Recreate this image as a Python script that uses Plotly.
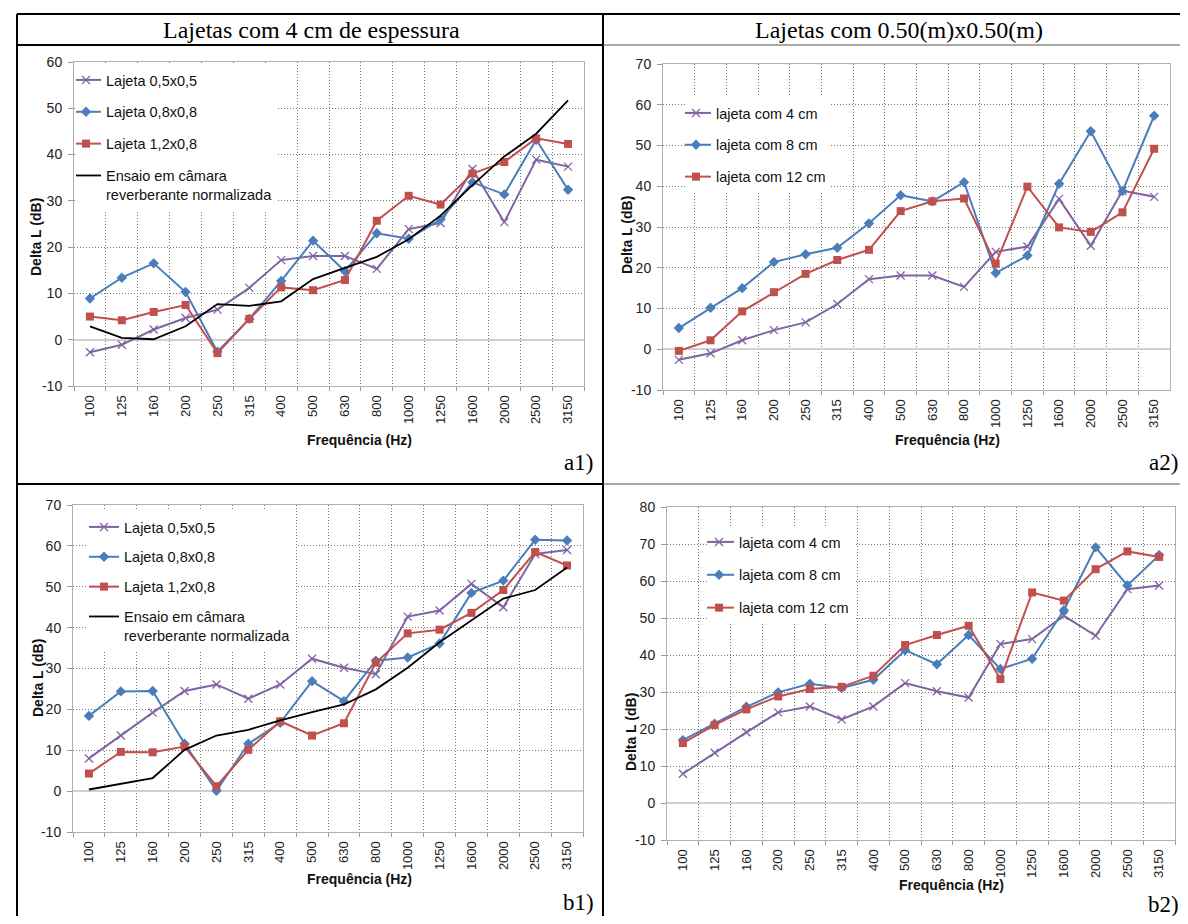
import plotly.graph_objects as go

# figure is drawn slightly smaller than the window (body margin of the page)
OX, OY = 8, 8
FW, FH = 1172, 908

freqs = ["100", "125", "160", "200", "250", "315", "400", "500", "630", "800",
         "1000", "1250", "1600", "2000", "2500", "3150"]

# Panel a1 / a2 (4 cm thickness ; 0.5x0.5 slabs)
a1_05x05 = [-2.7, -1.1, 2.2, 4.7, 6.5, 11.2, 17.2, 18.1, 18.1, 15.3, 23.9, 25.2, 36.9, 25.4, 38.9, 37.4]
a1_08x08 = [8.9, 13.4, 16.5, 10.3, -2.6, 4.5, 12.7, 21.4, 14.8, 23.0, 21.8, 26.0, 34.0, 31.4, 43.2, 32.4]
a1_12x08 = [5.0, 4.2, 6.0, 7.5, -2.9, 4.5, 11.3, 10.7, 12.9, 25.7, 31.1, 29.2, 35.9, 38.4, 43.5, 42.3]
a1_ensaio = [2.9, 0.4, 0.1, 2.9, 7.7, 7.3, 8.3, 13.1, 15.5, 17.9, 21.7, 26.8, 33.4, 39.6, 44.5, 51.7]

a2_4cm = [-2.6, -1.0, 2.2, 4.7, 6.6, 11.1, 17.2, 18.1, 18.1, 15.3, 23.9, 25.2, 36.9, 25.4, 38.9, 37.4]
a2_8cm = [5.2, 10.2, 15.0, 21.4, 23.3, 24.9, 30.9, 37.8, 36.3, 41.0, 18.7, 23.0, 40.6, 53.5, 38.8, 57.3]
a2_12cm = [-0.4, 2.2, 9.3, 14.0, 18.5, 21.9, 24.4, 33.9, 36.3, 37.0, 21.0, 39.9, 29.9, 28.8, 33.6, 49.2]

# Panel b1 / b2
b1_05x05 = [8.0, 13.6, 19.2, 24.5, 26.1, 22.6, 26.1, 32.4, 30.2, 28.6, 42.7, 44.2, 50.7, 45.0, 58.0, 59.0]
b1_08x08 = [18.4, 24.4, 24.5, 11.6, 0.1, 11.6, 16.7, 26.9, 22.0, 31.9, 32.7, 36.1, 48.5, 51.5, 61.5, 61.3]
b1_12x08 = [4.3, 9.6, 9.5, 10.9, 1.2, 10.1, 17.1, 13.6, 16.6, 31.4, 38.6, 39.5, 43.6, 49.2, 58.5, 55.2]
b1_ensaio = [0.4, 1.8, 3.2, 10.1, 13.6, 15.0, 17.3, 19.3, 21.2, 24.9, 30.2, 36.4, 41.8, 47.1, 49.2, 54.7]

b2_4cm = [7.9, 13.6, 19.1, 24.5, 26.1, 22.6, 26.1, 32.4, 30.2, 28.5, 43.0, 44.3, 50.6, 45.2, 57.8, 58.8]
b2_8cm = [17.0, 21.4, 26.0, 29.9, 32.2, 31.1, 33.3, 41.3, 37.5, 45.4, 36.2, 39.0, 52.1, 69.1, 58.8, 67.0]
b2_12cm = [16.2, 21.1, 25.3, 28.8, 30.8, 31.4, 34.4, 42.7, 45.4, 47.9, 33.5, 56.9, 54.7, 63.2, 68.0, 66.5]

yticks_a1 = [-10, 0, 10, 20, 30, 40, 50, 60]
yticks_a2 = [-10, 0, 10, 20, 30, 40, 50, 60, 70]
yticks_b1 = [-10, 0, 10, 20, 30, 40, 50, 60, 70]
yticks_b2 = [-10, 0, 10, 20, 30, 40, 50, 60, 70, 80]

header_left = "Lajetas com 4 cm de espessura"
header_right = "Lajetas com 0.50(m)x0.50(m)"
panel_tags = ["a1)", "a2)", "b1)", "b2)"]
x_title = "Frequência (Hz)"
y_title = "Delta L (dB)"

PURPLE = "#8064A2"
BLUE = "#4A7EBB"
RED = "#C0504D"
BLACK = "#000000"

SANS = "Liberation Sans, Arial, sans-serif"
SERIF = "Liberation Serif, Times New Roman, serif"


def px(x):
    return (x - OX) / FW


def py(y):
    return 1 - (y - OY) / FH


fig = go.Figure()


def add(xa, ya, leg, name, vals, kind, group):
    if kind == "x":
        marker = dict(symbol="x-thin", size=8, line=dict(width=1.3, color=PURPLE), color=PURPLE)
        color = PURPLE
    elif kind == "d":
        marker = dict(symbol="diamond", size=8, color=BLUE)
        color = BLUE
    elif kind == "s":
        marker = dict(symbol="square", size=8, color=RED)
        color = RED
    else:
        marker = None
        color = BLACK
    fig.add_trace(go.Scatter(
        x=freqs, y=vals, name=name, xaxis=xa, yaxis=ya, legend=leg,
        legendgroup=group,
        mode="lines+markers" if marker else "lines",
        line=dict(color=color, width=2 if marker else 1.8),
        marker=marker,
    ))


add("x", "y", "legend", "Lajeta 0,5x0,5", a1_05x05, "x", "a1p")
add("x", "y", "legend", "Lajeta 0,8x0,8", a1_08x08, "d", "a1b")
add("x", "y", "legend", "Lajeta 1,2x0,8", a1_12x08, "s", "a1r")
add("x", "y", "legend", "Ensaio em câmara<br>reverberante normalizada", a1_ensaio, "k", "a1k")

add("x2", "y2", "legend2", "lajeta com 4 cm", a2_4cm, "x", "a2p")
add("x2", "y2", "legend2", "lajeta com 8 cm", a2_8cm, "d", "a2b")
add("x2", "y2", "legend2", "lajeta com 12 cm", a2_12cm, "s", "a2r")

add("x3", "y3", "legend3", "Lajeta 0,5x0,5", b1_05x05, "x", "b1p")
add("x3", "y3", "legend3", "Lajeta 0,8x0,8", b1_08x08, "d", "b1b")
add("x3", "y3", "legend3", "Lajeta 1,2x0,8", b1_12x08, "s", "b1r")
add("x3", "y3", "legend3", "Ensaio em câmara<br>reverberante normalizada", b1_ensaio, "k", "b1k")

add("x4", "y4", "legend4", "lajeta com 4 cm", b2_4cm, "x", "b2p")
add("x4", "y4", "legend4", "lajeta com 8 cm", b2_8cm, "d", "b2b")
add("x4", "y4", "legend4", "lajeta com 12 cm", b2_12cm, "s", "b2r")

panels = [
    # (xdom px, ydom px, ticks, xtitle pos, ytitle pos)
    ((74, 584), (62, 386), yticks_a1, (359, 440), (36, 237)),
    ((663, 1170), (64, 390), yticks_a2, (947, 440), (627, 235)),
    ((73, 583), (505, 832), yticks_b1, (359, 879), (38, 678)),
    ((667, 1175), (507, 840), yticks_b2, (951, 885), (631, 732)),
]

layout = dict(
    width=FW, height=FH, margin=dict(l=0, r=0, t=0, b=0, pad=0, autoexpand=False),
    paper_bgcolor="white", plot_bgcolor="white",
    font=dict(family=SANS, color="#222"),
    showlegend=True,
)

GRID = dict(showgrid=True, gridcolor="#7a7a7a", griddash="1px,2px", gridwidth=1)

ann = []
for i, ((x0, x1), (y0, y1), ticks, (xtx, xty), (ytx, yty)) in enumerate(panels):
    sfx = "" if i == 0 else str(i + 1)
    layout["xaxis" + sfx] = dict(
        domain=[px(x0), px(x1)], anchor="y" + sfx, type="category", automargin=False,
        range=[-0.5, 15.5], tickson="boundaries", ticks="outside", ticklen=4,
        tickcolor="#9a9a9a", tickangle=-90, ticklabelstandoff=3,
        tickfont=dict(family=SANS, size=13, color="#222"),
        showline=True, linecolor="#b0b0b0", linewidth=1, mirror=True,
        **GRID,
    )
    layout["yaxis" + sfx] = dict(
        domain=[py(y1), py(y0)], anchor="x" + sfx, range=[ticks[0], ticks[-1]],
        automargin=False,
        tickmode="array", tickvals=ticks, ticktext=[str(t) for t in ticks],
        ticks="outside", ticklen=5, tickcolor="#9a9a9a", ticklabelstandoff=3,
        tickfont=dict(family=SANS, size=14, color="#222"),
        zeroline=True, zerolinecolor="#d0d0d0", zerolinewidth=2,
        showline=True, linecolor="#b0b0b0", linewidth=1, mirror=True,
        **GRID,
    )
    ann.append(dict(text="<b>" + x_title + "</b>", x=px(xtx), y=py(xty), xref="paper", yref="paper",
                    xanchor="center", yanchor="middle", showarrow=False,
                    font=dict(family=SANS, size=14, color="#111")))
    ann.append(dict(text="<b>" + y_title + "</b>", x=px(ytx), y=py(yty), xref="paper", yref="paper",
                    xanchor="center", yanchor="middle", showarrow=False, textangle=-90,
                    font=dict(family=SANS, size=14, color="#111")))

leg_common = dict(bgcolor="white", borderwidth=0, xanchor="left", yanchor="top",
                  font=dict(family=SANS, size=14.5, color="#111"), itemwidth=30,
                  tracegroupgap=10, valign="top")
layout["legend"] = dict(leg_common, x=px(76), y=py(64), indentation=-10)
layout["legend2"] = dict(leg_common, x=px(685), y=py(97), indentation=-9)
layout["legend3"] = dict(leg_common, x=px(88), y=py(511), indentation=-4, tracegroupgap=8)
layout["legend4"] = dict(leg_common, x=px(707), y=py(526), indentation=-8, tracegroupgap=11)

shapes = []


def line(x0, y0, x1, y1, color="black", width=2):
    shapes.append(dict(type="line", xref="paper", yref="paper",
                       x0=px(x0), y0=py(y0), x1=px(x1), y1=py(y1),
                       line=dict(color=color, width=width)))


line(17, 14, 1188, 14)
line(17, 14, 17, 924)
line(603, 14, 603, 924)
line(17, 45, 603, 45)
line(603, 45, 1188, 45, "#555", 1.2)
line(17, 484, 603, 484)
line(603, 484, 1188, 484, "#555", 1.2)
layout["shapes"] = shapes

ann.append(dict(text=header_left, x=px(312), y=py(30), xref="paper", yref="paper",
                xanchor="center", yanchor="middle", showarrow=False,
                font=dict(family=SERIF, size=24, color="black")))
ann.append(dict(text=header_right, x=px(899), y=py(30), xref="paper", yref="paper",
                xanchor="center", yanchor="middle", showarrow=False,
                font=dict(family=SERIF, size=24, color="black")))
for tag, (tx, ty) in zip(panel_tags, [(578, 462), (1163, 462), (578, 902), (1163, 904)]):
    ann.append(dict(text=tag, x=px(tx), y=py(ty), xref="paper", yref="paper",
                    xanchor="center", yanchor="middle", showarrow=False,
                    font=dict(family=SERIF, size=23, color="black")))
layout["annotations"] = ann

fig.update_layout(**layout)
fig.write_html("out.html")
